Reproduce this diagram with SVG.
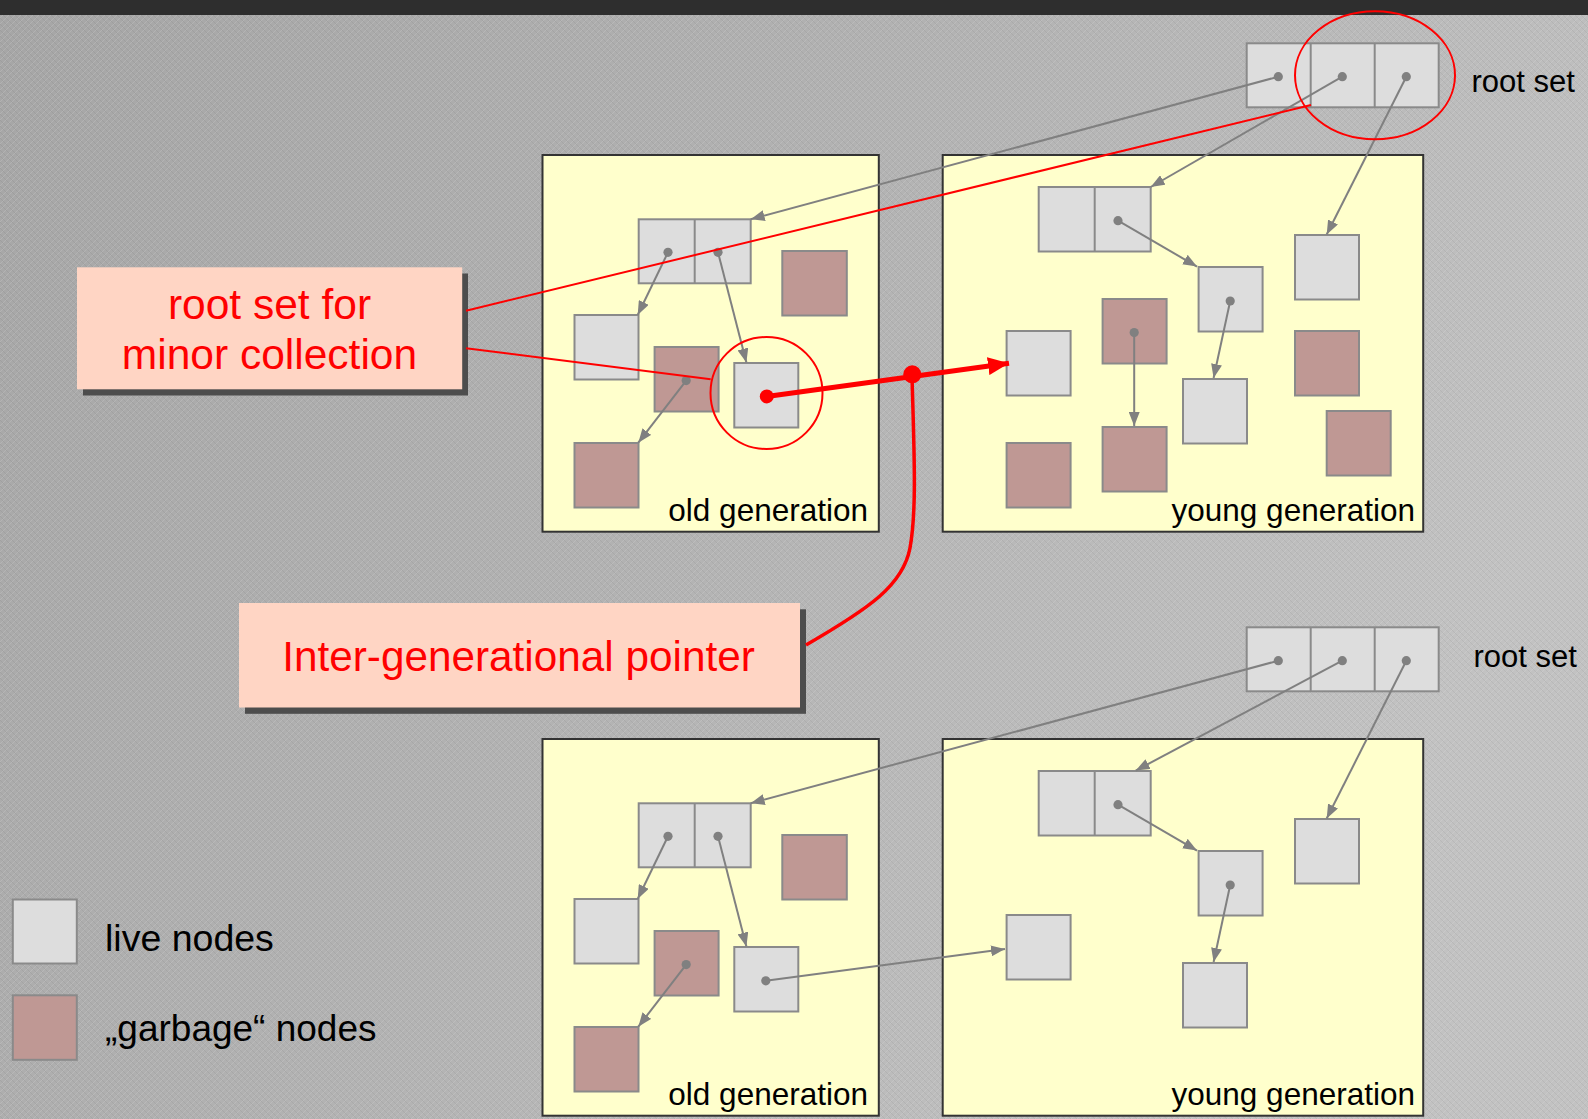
<svg xmlns="http://www.w3.org/2000/svg" width="1588" height="1119" viewBox="0 0 1588 1119">
<style>
.live{fill:#DDDDDD;stroke:#8A8A8A;stroke-width:2}
.garb{fill:#BF9894;stroke:#8A8A8A;stroke-width:2}
.div{stroke:#8A8A8A;stroke-width:2}
.gen{fill:#FFFFCC;stroke:#333333;stroke-width:2}
.ptr{stroke:#808080;stroke-width:2;fill:none;marker-end:url(#ah)}
.dot{fill:#808080}
.red{stroke:#FF0000;stroke-width:2;fill:none}
.callout{fill:#FFD5C4}
.shadow{fill:#4D4D4D}
.lbl{font-family:"Liberation Sans",Arial,sans-serif;fill:#000000}
.ctxt{font-family:"Liberation Sans",Arial,sans-serif;fill:#FF0000}
</style>
<defs>
<linearGradient id="bg" x1="0" y1="0" x2="1" y2="0.4">
<stop offset="0" stop-color="#A6A6A6"/>
<stop offset="0.5" stop-color="#B2B2B2"/>
<stop offset="1" stop-color="#C2C2C2"/>
</linearGradient>
<pattern id="tex" width="6" height="6" patternUnits="userSpaceOnUse">
<path d="M0,6 L6,0" stroke="#FFFFFF" stroke-width="1" opacity="0.12"/>
<path d="M0,0 L6,6" stroke="#000000" stroke-width="1" opacity="0.05"/>
</pattern>
<marker id="ah" markerUnits="userSpaceOnUse" markerWidth="14" markerHeight="11" refX="14" refY="5.5" orient="auto">
<path d="M0,0 L14,5.5 L0,11 z" fill="#808080"/>
</marker>
<marker id="rah" markerUnits="userSpaceOnUse" markerWidth="22" markerHeight="18" refX="21" refY="9" orient="auto">
<path d="M0,0 L21,9 L0,18 z" fill="#FF0000"/>
</marker>
</defs>

<rect x="0" y="0" width="1588" height="1119" fill="url(#bg)"/>
<rect x="0" y="0" width="1588" height="1119" fill="url(#tex)"/>
<rect x="0" y="0" width="1588" height="15" fill="#2E2E2E"/>

<!-- upper scene -->
<g id="old-gen-1">
<rect class="gen" x="542.5" y="155" width="336.3" height="376.7"/>
<text class="lbl" x="868" y="521" font-size="31.5" text-anchor="end">old generation</text>
</g>
<g id="young-gen-1">
<rect class="gen" x="942.7" y="155" width="480.5" height="376.7"/>
<text class="lbl" x="1415" y="521" font-size="31.5" text-anchor="end">young generation</text>
</g>

<g id="root-set-1">
<rect class="live" x="1246.7" y="43.3" width="192" height="64"/>
<line class="div" x1="1310.7" y1="43.3" x2="1310.7" y2="107.3"/>
<line class="div" x1="1374.7" y1="43.3" x2="1374.7" y2="107.3"/>
<text class="lbl" x="1471.5" y="91.5" font-size="31">root set</text>
</g>

<g id="o1-double"><rect class="live" x="638.7" y="219.3" width="112" height="64"/><line class="div" x1="694.7" y1="219.3" x2="694.7" y2="283.3"/></g>
<g id="o1-live-a"><rect class="live" x="574.5" y="315" width="64" height="64.5"/></g>
<g id="o1-garb-a"><rect class="garb" x="654.6" y="347" width="64" height="64.5"/></g>
<g id="o1-garb-b"><rect class="garb" x="574.5" y="443" width="64" height="64.5"/></g>
<g id="o1-live-b"><rect class="live" x="734.3" y="363" width="64" height="64.5"/></g>
<g id="o1-garb-c"><rect class="garb" x="782.3" y="251" width="64.5" height="64.5"/></g>

<g id="y1-double"><rect class="live" x="1038.7" y="187" width="112" height="64.5"/><line class="div" x1="1094.7" y1="187" x2="1094.7" y2="251.5"/></g>
<g id="y1-live-a"><rect class="live" x="1198.6" y="267" width="64" height="64.5"/></g>
<g id="y1-live-b"><rect class="live" x="1295" y="235" width="64" height="64.5"/></g>
<g id="y1-garb-a"><rect class="garb" x="1102.6" y="299" width="64" height="64.5"/></g>
<g id="y1-live-c"><rect class="live" x="1006.6" y="331" width="64" height="64.5"/></g>
<g id="y1-garb-b"><rect class="garb" x="1295" y="331" width="64" height="64.5"/></g>
<g id="y1-live-d"><rect class="live" x="1183" y="379" width="64" height="64.5"/></g>
<g id="y1-garb-c"><rect class="garb" x="1102.6" y="427" width="64" height="64.5"/></g>
<g id="y1-garb-d"><rect class="garb" x="1006.6" y="443" width="64" height="64.5"/></g>
<g id="y1-garb-e"><rect class="garb" x="1326.7" y="411" width="64" height="64.5"/></g>

<!-- lower scene -->
<g id="old-gen-2">
<rect class="gen" x="542.5" y="739" width="336.3" height="376.7"/>
<text class="lbl" x="868" y="1105" font-size="31.5" text-anchor="end">old generation</text>
</g>
<g id="young-gen-2">
<rect class="gen" x="942.7" y="739" width="480.5" height="376.7"/>
<text class="lbl" x="1415" y="1105" font-size="31.5" text-anchor="end">young generation</text>
</g>

<g id="root-set-2">
<rect class="live" x="1246.7" y="627.3" width="192" height="64"/>
<line class="div" x1="1310.7" y1="627.3" x2="1310.7" y2="691.3"/>
<line class="div" x1="1374.7" y1="627.3" x2="1374.7" y2="691.3"/>
<text class="lbl" x="1473.5" y="667" font-size="31">root set</text>
</g>

<g id="o2-double"><rect class="live" x="638.7" y="803.3" width="112" height="64"/><line class="div" x1="694.7" y1="803.3" x2="694.7" y2="867.3"/></g>
<g id="o2-live-a"><rect class="live" x="574.5" y="899" width="64" height="64.5"/></g>
<g id="o2-garb-a"><rect class="garb" x="654.6" y="931" width="64" height="64.5"/></g>
<g id="o2-garb-b"><rect class="garb" x="574.5" y="1027" width="64" height="64.5"/></g>
<g id="o2-live-b"><rect class="live" x="734.3" y="947" width="64" height="64.5"/></g>
<g id="o2-garb-c"><rect class="garb" x="782.3" y="835" width="64.5" height="64.5"/></g>

<g id="y2-double"><rect class="live" x="1038.7" y="771" width="112" height="64.5"/><line class="div" x1="1094.7" y1="771" x2="1094.7" y2="835.5"/></g>
<g id="y2-live-a"><rect class="live" x="1198.6" y="851" width="64" height="64.5"/></g>
<g id="y2-live-b"><rect class="live" x="1295" y="819" width="64" height="64.5"/></g>
<g id="y2-live-c"><rect class="live" x="1006.6" y="915" width="64" height="64.5"/></g>
<g id="y2-live-d"><rect class="live" x="1183" y="963" width="64" height="64.5"/></g>

<!-- legend -->
<g id="legend-live">
<rect class="live" x="12.8" y="899.5" width="64" height="64"/>
<text class="lbl" x="105" y="951" font-size="37.5">live nodes</text>
</g>
<g id="legend-garbage">
<rect class="garb" x="12.8" y="995.3" width="64" height="64.5"/>
<text class="lbl" x="105" y="1040.5" font-size="37">„garbage“ nodes</text>
</g>

<!-- callouts -->
<g id="callout-root-set">
<rect class="shadow" x="83" y="273.5" width="385" height="122"/>
<rect class="callout" x="77" y="267.3" width="385.2" height="122"/>
<text class="ctxt" x="269.5" y="319" font-size="42.5" text-anchor="middle">root set for</text>
<text class="ctxt" x="269.5" y="369.4" font-size="42.5" text-anchor="middle">minor collection</text>
</g>
<g id="callout-inter-gen">
<rect class="shadow" x="245" y="609.3" width="561" height="104.5"/>
<rect class="callout" x="239" y="603" width="561" height="104.5"/>
<text class="ctxt" x="518.5" y="670.8" font-size="42.3" text-anchor="middle">Inter-generational pointer</text>
</g>

<!-- connectors -->
<g id="connectors">
<!-- upper gray pointers -->
<line class="ptr" x1="1278.3" y1="76.7" x2="750.7" y2="219.3"/>
<line class="ptr" x1="1342.3" y1="76.7" x2="1150.7" y2="187"/>
<line class="ptr" x1="1406.3" y1="76.7" x2="1326.7" y2="234.5"/>
<line class="ptr" x1="1118" y1="220.7" x2="1197" y2="266.6"/>
<line class="ptr" x1="1230.2" y1="301" x2="1213.6" y2="378"/>
<line class="ptr" x1="1134.2" y1="332.6" x2="1134.2" y2="426"/>
<line class="ptr" x1="668" y1="252.3" x2="637.7" y2="315"/>
<line class="ptr" x1="718" y1="252.3" x2="746.4" y2="362.5"/>
<line class="ptr" x1="686.2" y1="380.6" x2="638.3" y2="442.7"/>
<circle class="dot" cx="1278.3" cy="76.7" r="4.6"/>
<circle class="dot" cx="1342.3" cy="76.7" r="4.6"/>
<circle class="dot" cx="1406.3" cy="76.7" r="4.6"/>
<circle class="dot" cx="1118" cy="220.7" r="4.6"/>
<circle class="dot" cx="1230.2" cy="301" r="4.6"/>
<circle class="dot" cx="1134.2" cy="332.6" r="4.6"/>
<circle class="dot" cx="668" cy="252.3" r="4.6"/>
<circle class="dot" cx="718" cy="252.3" r="4.6"/>
<circle class="dot" cx="686.2" cy="380.6" r="4.6"/>

<!-- lower gray pointers -->
<line class="ptr" x1="1278.3" y1="660.7" x2="750.7" y2="803.3"/>
<line class="ptr" x1="1342.3" y1="660.7" x2="1135.7" y2="770.6"/>
<line class="ptr" x1="1406.3" y1="660.7" x2="1326.7" y2="818.5"/>
<line class="ptr" x1="1118" y1="804.7" x2="1197" y2="850.6"/>
<line class="ptr" x1="1230.2" y1="885" x2="1213.6" y2="962"/>
<line class="ptr" x1="668" y1="836.3" x2="637.7" y2="899"/>
<line class="ptr" x1="718" y1="836.3" x2="746.4" y2="946.5"/>
<line class="ptr" x1="686.2" y1="964.6" x2="638.3" y2="1026.7"/>
<line class="ptr" x1="765.8" y1="980.8" x2="1005" y2="949"/>
<circle class="dot" cx="1278.3" cy="660.7" r="4.6"/>
<circle class="dot" cx="1342.3" cy="660.7" r="4.6"/>
<circle class="dot" cx="1406.3" cy="660.7" r="4.6"/>
<circle class="dot" cx="1118" cy="804.7" r="4.6"/>
<circle class="dot" cx="1230.2" cy="885" r="4.6"/>
<circle class="dot" cx="668" cy="836.3" r="4.6"/>
<circle class="dot" cx="718" cy="836.3" r="4.6"/>
<circle class="dot" cx="686.2" cy="964.6" r="4.6"/>
<circle class="dot" cx="765.8" cy="980.8" r="4.6"/>

<!-- red annotations -->
<ellipse class="red" cx="1375" cy="75.2" rx="80" ry="64"/>
<circle class="red" cx="766.5" cy="393" r="56"/>
<line class="red" x1="466" y1="310.8" x2="1311" y2="105"/>
<line class="red" x1="466" y1="348.3" x2="710.7" y2="379.2"/>
<line x1="766.8" y1="396.4" x2="1009" y2="363.3" stroke="#FF0000" stroke-width="5" marker-end="url(#rah)"/>
<circle cx="766.8" cy="396.4" r="7" fill="#FF0000"/>
<path d="M912,376 C914,450 917,510 910,548 C903,585 870,608 806,645" stroke="#FF0000" stroke-width="3.5" fill="none"/>
<circle cx="912.3" cy="374.3" r="9" fill="#FF0000"/>
</g>
</svg>
